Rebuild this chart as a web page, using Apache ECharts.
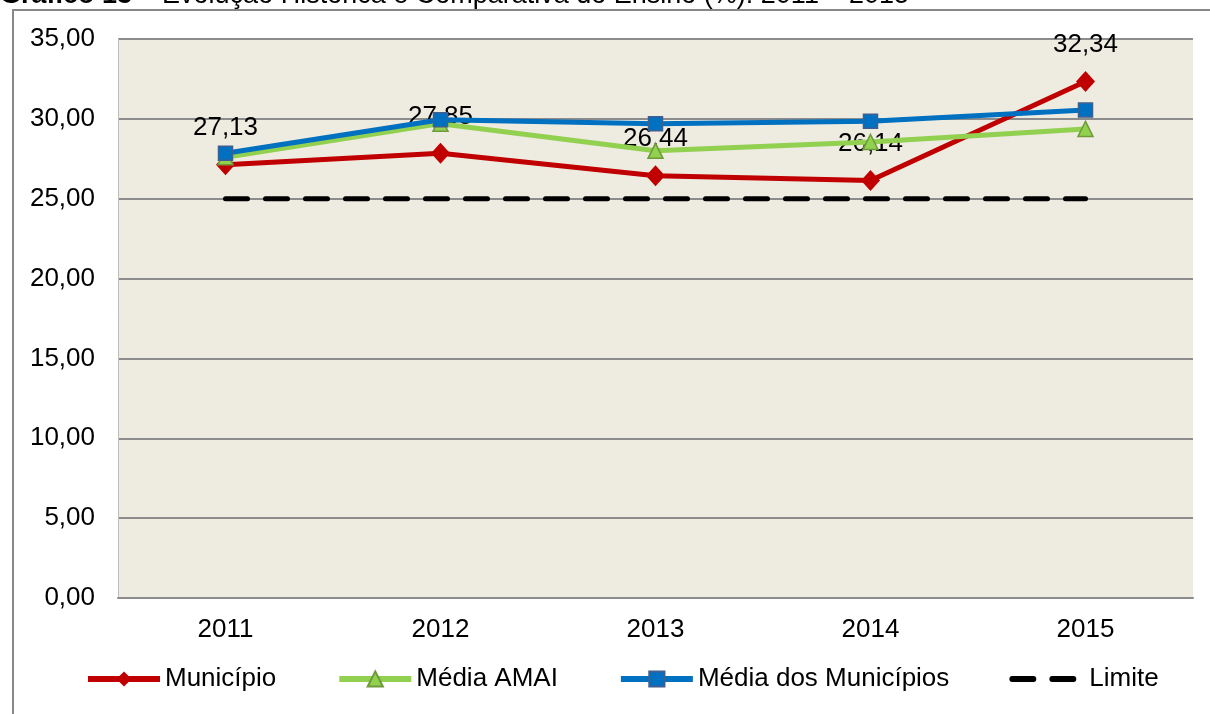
<!DOCTYPE html>
<html>
<head>
<meta charset="utf-8">
<script src="https://cdn.jsdelivr.net/npm/echarts@6/dist/echarts.min.js"></script>
<style>
  html, body { margin: 0; padding: 0; background: #fff; }
  #chart { width: 1210px; height: 714px; }
</style>
</head>
<body>
<div id="chart"></div>
<script>
// categorias e valores
var anos = ['2011', '2012', '2013', '2014', '2015'];
var municipio = [27.13, 27.85, 26.44, 26.14, 32.34];
var mediaAmai = [27.6, 29.7, 28.0, 28.55, 29.37];
var mediaMunicipios = [27.85, 29.95, 29.7, 29.85, 30.55];
var limite = [25, 25, 25, 25, 25];
var yTicks = { min: 0, max: 35, step: 5 };

function virgula(v, casas) {
    return Number(v).toFixed(casas).replace('.', ',');
}

var myChart = echarts.init(document.getElementById('chart'));

var fonte = 'Liberation Sans, Arial, sans-serif';

var option = {
    backgroundColor: '#ffffff',
    textStyle: { fontFamily: fonte },
    graphic: [
        {
            type: 'rect',
            shape: { x: 13, y: 10, width: 1300, height: 800 },
            style: { fill: 'none', stroke: '#888888', lineWidth: 2 },
            silent: true
        },
        {
            type: 'text',
            left: 0,
            top: -18,
            style: {
                text: '{b|Gráfico 13} – Evolução Histórica e Comparativa do Ensino (%): 2011 – 2015',
                font: '27px ' + fonte,
                fill: '#000',
                rich: {
                    b: { fontWeight: 'bold', fontSize: 27, fontFamily: fonte, fill: '#000' }
                }
            },
            silent: true
        }
    ],
    grid: {
        left: 118,
        right: 17,
        top: 39,
        bottom: 116,
        show: true,
        backgroundColor: '#EEEBE0',
        borderWidth: 0
    },
    legend: {
        left: 85,
        top: 666,
        padding: 0,
        itemWidth: 72,
        itemHeight: 19,
        itemGap: 60,
        textStyle: { fontSize: 26, color: '#000', fontFamily: fonte },
        data: [
            { name: 'Município', lineStyle: { width: 6 } },
            { name: 'Média AMAI', lineStyle: { width: 6 } },
            { name: 'Média dos Municípios', lineStyle: { width: 6 } },
            {
                name: 'Limite',
                itemStyle: { opacity: 0 },
                lineStyle: { width: 6, color: '#000', type: [21, 19], cap: 'round' }
            }
        ]
    },
    xAxis: {
        type: 'category',
        data: anos,
        boundaryGap: true,
        axisLine: { lineStyle: { color: '#8c8c8c', width: 2 } },
        axisTick: { show: false },
        axisLabel: { color: '#000', fontSize: 26, margin: 19 }
    },
    yAxis: {
        type: 'value',
        min: yTicks.min,
        max: yTicks.max,
        interval: yTicks.step,
        axisLine: { show: true, lineStyle: { color: '#bdbdbd', width: 1 } },
        axisTick: { show: false },
        axisLabel: {
            color: '#000',
            fontSize: 26,
            margin: 23,
            formatter: function (v) { return virgula(v, 2); }
        },
        splitLine: { lineStyle: { color: '#8c8c8c', width: 2 } }
    },
    series: [
        {
            name: 'Limite',
            type: 'line',
            data: limite,
            symbol: 'none',
            z: 1,
            lineStyle: { color: '#000', width: 5, type: [22, 18], cap: 'round' },
            itemStyle: { color: '#000' }
        },
        {
            name: 'Município',
            type: 'line',
            data: municipio,
            symbol: 'diamond',
            symbolSize: [19, 21],
            z: 3,
            lineStyle: { color: '#C00000', width: 5 },
            itemStyle: { color: '#C00000' },
            label: {
                show: true,
                position: 'top',
                distance: 13,
                fontSize: 26,
                color: '#000',
                formatter: function (p) { return virgula(p.value, 2); }
            }
        },
        {
            name: 'Média AMAI',
            type: 'line',
            data: mediaAmai,
            symbol: 'triangle',
            symbolSize: 15,
            z: 4,
            lineStyle: { color: '#92D050', width: 5 },
            itemStyle: { color: '#92D050', borderColor: '#6E9A3A', borderWidth: 1.5 }
        },
        {
            name: 'Média dos Municípios',
            type: 'line',
            data: mediaMunicipios,
            symbol: 'rect',
            symbolSize: 14,
            z: 5,
            lineStyle: { color: '#0070C0', width: 5 },
            itemStyle: { color: '#0070C0', borderColor: '#3F5F8F', borderWidth: 1.5 }
        }
    ]
};

myChart.setOption(option);
</script>
</body>
</html>
